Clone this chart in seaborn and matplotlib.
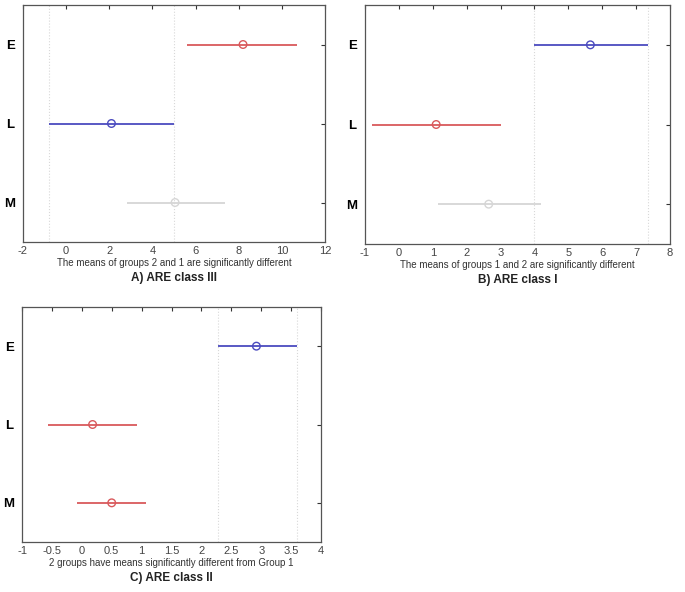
import numpy as np
import pandas as pd
import matplotlib
matplotlib.use("Agg")
import matplotlib.pyplot as plt
import seaborn as sns

groups = ["E", "L", "M"]

# panel A) ARE class III
a_mean = [8.2, 2.1, 5.05]
a_lo = [5.6, -0.8, 2.8]
a_hi = [10.7, 5.0, 7.35]
a_col = ["red", "blue", "gray"]

# panel B) ARE class I
b_mean = [5.65, 1.1, 2.65]
b_lo = [4.0, -0.8, 1.15]
b_hi = [7.35, 3.0, 4.2]
b_col = ["blue", "red", "gray"]

# panel C) ARE class II
c_mean = [2.92, 0.18, 0.5]
c_lo = [2.27, -0.57, -0.08]
c_hi = [3.6, 0.93, 1.08]
c_col = ["blue", "red", "red"]

palette = {"red": "#d9595c", "blue": "#4b4bbf", "gray": "#d6d6d6"}

sns.set_style("white")
plt.rcParams['font.family'] = ['Liberation Sans', 'DejaVu Sans']

fig = plt.figure(figsize=(6.85, 5.92), dpi=100)


def panel(rect, mean, lo, hi, col, xlim, xticks, xlabel, title):
    ax = fig.add_axes(rect)
    df = pd.DataFrame({"group": groups, "mean": mean, "lo": lo, "hi": hi, "col": col})
    df["y"] = len(groups) - np.arange(len(groups))
    # interval of the selected group (blue) drawn as dotted guides
    sel = df[df["col"] == "blue"].iloc[0]
    for xv in (sel["lo"], sel["hi"]):
        ax.axvline(xv, color="#d8d8d8", lw=0.8, ls=":", zorder=0)
    for _, r in df.iterrows():
        ax.hlines(r["y"], r["lo"], r["hi"], color=palette[r["col"]], lw=1.3, zorder=2)
    sns.scatterplot(data=df, x="mean", y="y", hue="col", palette=palette,
                    marker="o", s=30, linewidth=1.0, legend=False, ax=ax, zorder=3)
    coll = ax.collections[-1]
    coll.set_edgecolors([palette[c] for c in df["col"]])
    coll.set_facecolors("none")
    ax.set_xlim(*xlim)
    ax.set_ylim(0.5, len(groups) + 0.5)
    ax.set_xticks(xticks)
    ax.set_xticklabels([("%g" % t) for t in xticks], fontsize=8, color="#444444")
    ax.set_yticks(df["y"])
    ax.set_yticklabels(groups, fontsize=9.5, fontweight="bold", color="black")
    ax.tick_params(direction="in", length=3, width=0.8, color="#333333",
                   top=True, right=True, pad=3)
    ax.tick_params(axis="y", pad=6)
    for s in ax.spines.values():
        s.set_color("#555555")
        s.set_linewidth(0.9)
    ax.set_xlabel("")
    ax.set_ylabel("")
    h = rect[3] * 592
    ax.text(0.5, -20.5 / h, xlabel, transform=ax.transAxes, ha="center", va="center",
            fontsize=7, color="#333333")
    ax.text(0.5, -36.5 / h, title, transform=ax.transAxes, ha="center", va="center",
            fontsize=8.5, fontweight="bold", color="#222222")
    return ax


panel([23 / 685, 1 - 242 / 592, 302 / 685, 237 / 592], a_mean, a_lo, a_hi, a_col,
      (-2, 12), np.arange(-2, 13, 2),
      "The means of groups 2 and 1 are significantly different", "A) ARE class III")
panel([365 / 685, 1 - 244 / 592, 305 / 685, 239 / 592], b_mean, b_lo, b_hi, b_col,
      (-1, 8), np.arange(-1, 9, 1),
      "The means of groups 1 and 2 are significantly different", "B) ARE class I")
panel([22 / 685, 1 - 542 / 592, 299 / 685, 235 / 592], c_mean, c_lo, c_hi, c_col,
      (-1, 4), np.arange(-1, 4.01, 0.5),
      "2 groups have means significantly different from Group 1", "C) ARE class II")

fig.savefig("out.png", dpi=100)
